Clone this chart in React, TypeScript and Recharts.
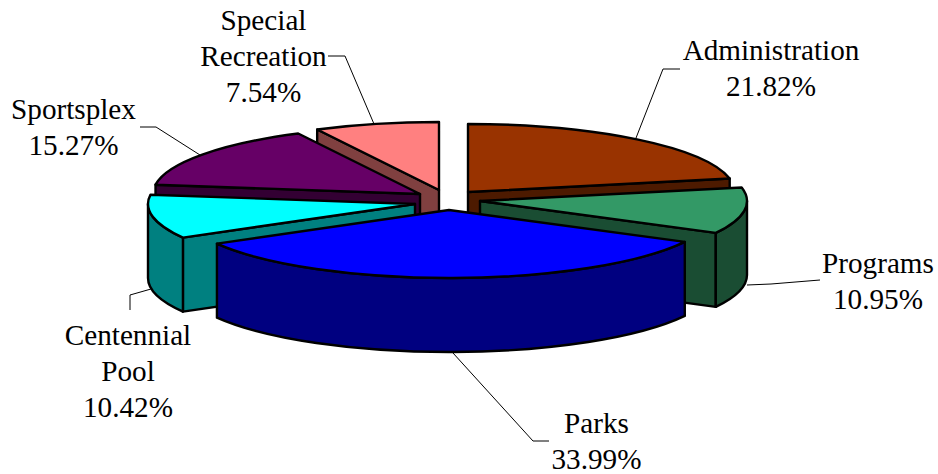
import { PieChart, Pie } from "recharts";

const categories = ["Administration", "Programs", "Parks", "Centennial Pool", "Sportsplex", "Special Recreation"];
const shares = [21.82, 10.95, 33.99, 10.42, 15.27, 7.54];

const topColors = ["#993300", "#339966", "#0000ff", "#00ffff", "#660066", "#ff8080"];
const sideColors = ["#4d1a00", "#1a4d33", "#000080", "#008080", "#330033", "#804040"];

// back to front, so nearer slices cover the ones behind them
const drawOrder = ["Special Recreation", "Sportsplex", "Administration", "Programs", "Centennial Pool", "Parks"];

const data = categories.map((name, i) => ({ name, value: shares[i] }));

const CX = 440;
const CY = 190;
const RADIUS = 267;
const TILT = 68 / 267;
const DEPTH = 74;

// how far each slice is pulled out of the centre
const explode: Record<string, [number, number]> = {
  Administration: [28, 2],
  Programs: [40, 11],
  Parks: [9, 20],
  "Centennial Pool": [-25, 14],
  Sportsplex: [-20, 4],
  "Special Recreation": [-1, 0],
};

// label centre, first baseline, then the leader line
const labelLayout: Record<string, { x: number; y: number; line: string }> = {
  Administration: { x: 771, y: 60, line: "636,138 663,69 680,69" },
  Programs: { x: 878, y: 273, line: "747,285 771,284 820,280" },
  Parks: { x: 596.5, y: 433, line: "453,353 533,441 549,441" },
  "Centennial Pool": { x: 128, y: 345, line: "151,289 130,295 130,310" },
  Sportsplex: { x: 73.5, y: 119, line: "200,155 156,127 140,127" },
  "Special Recreation": { x: 263.5, y: 30, line: "374,124 345,56 328,56" },
};

function Slice3D(props: any) {
  const { name, cx, cy, outerRadius, startAngle, endAngle, only } = props;
  if (name !== only) return <g />;
  const i = categories.indexOf(name);
  const [dx, dy] = explode[name];
  const ax = cx + dx;
  const ay = cy + dy;
  const a = outerRadius;
  const b = outerRadius * TILT;
  // clockwise degrees from 12 o'clock
  const s = 90 - startAngle;
  const e = 90 - endAngle;
  const pt = (deg: number) => {
    const r = (deg * Math.PI) / 180;
    return [ax + a * Math.sin(r), ay - b * Math.cos(r)];
  };
  const face = (deg: number) => {
    const [x, y] = pt(deg);
    return `M${ax},${ay} L${x},${y} L${x},${y + DEPTH} L${ax},${ay + DEPTH} Z`;
  };
  const sinOf = (deg: number) => Math.sin((deg * Math.PI) / 180);
  const lo = Math.max(s, 90);
  const hi = Math.min(e, 270);
  const [sx, sy] = pt(s);
  const [ex, ey] = pt(e);
  const common = { stroke: "#000", strokeWidth: 2.4, strokeLinejoin: "round" as const };
  let wall = "";
  if (lo < hi) {
    const [lx, ly] = pt(lo);
    const [hx, hy] = pt(hi);
    wall = `M${lx},${ly} A${a},${b} 0 0 1 ${hx},${hy} L${hx},${hy + DEPTH} A${a},${b} 0 0 0 ${lx},${ly + DEPTH} Z`;
  }
  return (
    <g>
      {sinOf(s) < -0.001 && <path d={face(s)} fill={sideColors[i]} {...common} />}
      {sinOf(e) > 0.001 && <path d={face(e)} fill={sideColors[i]} {...common} />}
      {wall && <path d={wall} fill={sideColors[i]} {...common} />}
      <path
        d={`M${ax},${ay} L${sx},${sy} A${a},${b} 0 ${e - s > 180 ? 1 : 0} 1 ${ex},${ey} Z`}
        fill={topColors[i]}
        {...common}
      />
    </g>
  );
}

function SliceLabel(props: any) {
  const { name, value } = props;
  const pos = labelLayout[name];
  const lines = [...name.split(" "), `${value.toFixed(2)}%`];
  return (
    <g>
      <polyline points={pos.line} fill="none" stroke="#000" strokeWidth={1} />
      <text
        textAnchor="middle"
        fontFamily="'Liberation Serif', serif"
        fontSize={29.2}
        fill="#000"
      >
        {lines.map((t: string, i: number) => (
          <tspan key={t} x={pos.x} y={pos.y + i * 36}>
            {t}
          </tspan>
        ))}
      </text>
    </g>
  );
}

export default function App() {
  const shared = {
    data,
    dataKey: "value",
    nameKey: "name",
    cx: CX,
    cy: CY,
    outerRadius: RADIUS,
    startAngle: 90,
    endAngle: -270,
    isAnimationActive: false,
    labelLine: false,
  };
  return (
    <div style={{ position: "absolute", left: 0, top: 0, width: 938, height: 474, background: "#fff" }}>
      <PieChart width={938} height={474} margin={{ top: 0, right: 0, bottom: 0, left: 0 }}>
        <Pie key="labels" {...shared} shape={() => <g />} label={(p: any) => <SliceLabel {...p} />} />
        {drawOrder.map((only) => (
          <Pie key={only} {...shared} label={false} shape={(p: any) => <Slice3D {...p} only={only} />} />
        ))}
      </PieChart>
    </div>
  );
}
